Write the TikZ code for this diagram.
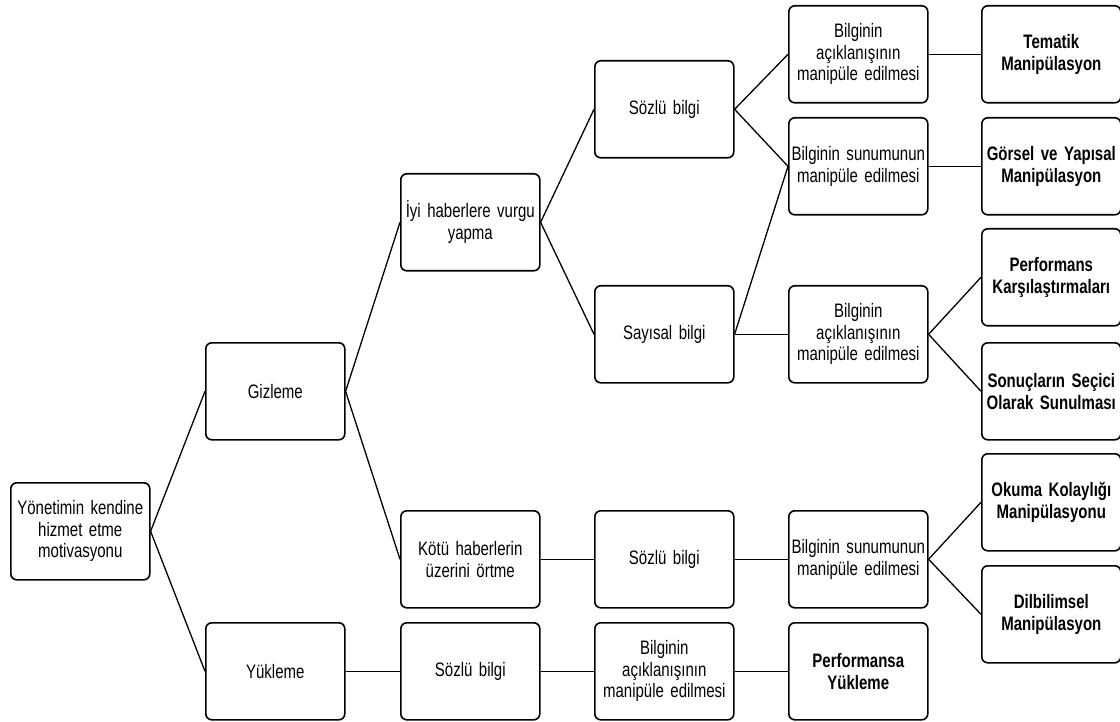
\documentclass[tikz,border=0pt]{standalone}
\usepackage{fontspec}
\setmainfont{Liberation Sans}[FakeStretch=0.77]
\newcommand{\boxfont}{\fontsize{19.5}{21.6}\selectfont\spaceskip=0.21em\relax}
\newcommand{\boldboxfont}{\fontsize{19.5}{21.6}\selectfont\bfseries\spaceskip=0.21em\relax}
\begin{document}
\begin{tikzpicture}[x=1pt,y=-1pt,
  box/.style={draw=black, line width=1.6pt, rounded corners=6pt, anchor=north west,
    minimum width=139pt, minimum height=97pt, inner sep=0pt, align=center,
    text width=139pt, font=\boxfont, text=black},
  bbox/.style={box, font=\boldboxfont},
  link/.style={draw=black, line width=1.3pt}]
\useasboundingbox (0,0) rectangle (1120,722);
\node[box]  (root)  at (10,482)  {Yönetimin kendine\\hizmet etme\\motivasyonu};
\node[box]  (giz)   at (205,342) {Gizleme};
\node[box]  (yuk)   at (205,622) {Yükleme};
\node[box]  (iyi)   at (400,173) {İyi haberlere vurgu\\yapma};
\node[box]  (kotu)  at (400,510) {Kötü haberlerin\\üzerini örtme};
\node[box]  (sozY)  at (400,622) {Sözlü bilgi};
\node[box]  (soz1)  at (594,60)  {Sözlü bilgi};
\node[box]  (say)   at (594,285) {Sayısal bilgi};
\node[box]  (soz2)  at (594,510) {Sözlü bilgi};
\node[box]  (acikY) at (594,622) {Bilginin\\açıklanışının\\manipüle edilmesi};
\node[box]  (acik1) at (788,5)   {Bilginin\\açıklanışının\\manipüle edilmesi};
\node[box]  (sun1)  at (788,117) {Bilginin sunumunun\\manipüle edilmesi};
\node[box]  (acik2) at (788,285) {Bilginin\\açıklanışının\\manipüle edilmesi};
\node[box]  (sun2)  at (788,510) {Bilginin sunumunun\\manipüle edilmesi};
\node[bbox] (perfY) at (788,622) {Performansa\\Yükleme};
\node[bbox] (tem)   at (981,5)   {Tematik\\Manipülasyon};
\node[bbox] (gor)   at (981,117) {Görsel ve Yapısal\\Manipülasyon};
\node[bbox] (perf)  at (981,228) {Performans\\Karşılaştırmaları};
\node[bbox] (son)   at (981,342) {Sonuçların Seçici\\Olarak Sunulması};
\node[bbox] (oku)   at (981,453) {Okuma Kolaylığı\\Manipülasyonu};
\node[bbox] (dil)   at (981,565) {Dilbilimsel\\Manipülasyon};
\draw[link] (root.east) -- (giz.west);
\draw[link] (root.east) -- (yuk.west);
\draw[link] (giz.east) -- (iyi.west);
\draw[link] (giz.east) -- (kotu.west);
\draw[link] (yuk.east) -- (sozY.west);
\draw[link] (iyi.east) -- (soz1.west);
\draw[link] (iyi.east) -- (say.west);
\draw[link] (kotu.east) -- (soz2.west);
\draw[link] (sozY.east) -- (acikY.west);
\draw[link] (soz1.east) -- (acik1.west);
\draw[link] (soz1.east) -- (sun1.west);
\draw[link] (say.east) -- (sun1.west);
\draw[link] (say.east) -- (acik2.west);
\draw[link] (soz2.east) -- (sun2.west);
\draw[link] (acikY.east) -- (perfY.west);
\draw[link] (acik1.east) -- (tem.west);
\draw[link] (sun1.east) -- (gor.west);
\draw[link] (acik2.east) -- (perf.west);
\draw[link] (acik2.east) -- (son.west);
\draw[link] (sun2.east) -- (oku.west);
\draw[link] (sun2.east) -- (dil.west);
\end{tikzpicture}
\end{document}
